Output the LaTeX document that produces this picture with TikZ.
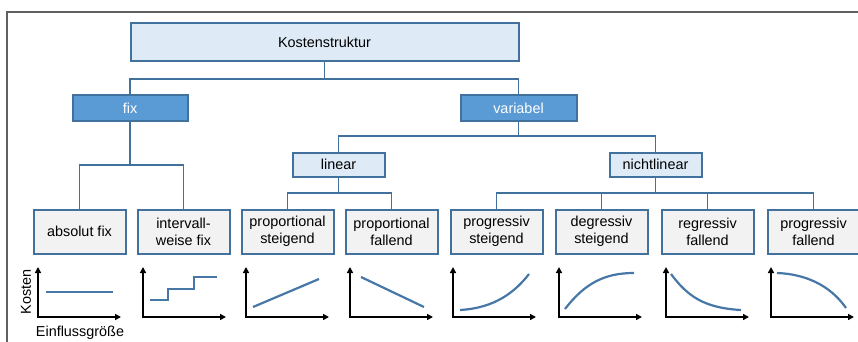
\documentclass[tikz,border=0pt]{standalone}
\usepackage{fontspec}
\setmainfont{Liberation Sans}
\usetikzlibrary{arrows.meta}
\definecolor{bord}{HTML}{41719C}
\definecolor{lightfill}{HTML}{DEEBF7}
\definecolor{midfill}{HTML}{5B9BD5}
\definecolor{grayfill}{HTML}{F2F2F2}
\definecolor{framec}{HTML}{606060}
\definecolor{curvec}{HTML}{4677A6}
\tikzset{
  box/.style={draw=bord, line width=2pt, inner sep=0pt, align=center,
    font=\fontsize{14.4}{17}\selectfont},
  topbox/.style={box, fill=lightfill, minimum width=388pt, minimum height=38pt},
  catbox/.style={box, fill=midfill, text=white, minimum width=115pt, minimum height=25pt},
  subbox/.style={box, fill=lightfill, minimum width=92pt, minimum height=24pt},
  leafbox/.style={box, fill=grayfill, minimum width=92pt, minimum height=44pt},
  conn/.style={draw=bord, line width=1.6pt},
  axis/.style={line width=2pt, -{Triangle[length=6pt,width=6pt]}},
  curve/.style={draw=curvec, line width=2.2pt},
  lbl/.style={font=\fontsize{14.4}{17}\selectfont, inner sep=0pt}
}
\begin{document}
\begin{tikzpicture}[x=1pt,y=-1pt]
\useasboundingbox (0,0) rectangle (858,342);
\clip (0,0) rectangle (858,342);
% frame
\draw[framec, line width=1.6pt] (7,12) rectangle (880,380);
% nodes
\node[topbox] (K) at (324.5,42.5) {Kostenstruktur};
\node[catbox] (fix) at (130,108) {fix};
\node[catbox, minimum width=116pt] (var) at (518.5,108) {variabel};
\node[subbox] (lin) at (338.5,164.5) {linear};
\node[subbox] (nlin) at (655.5,164.5) {nichtlinear};
\node[leafbox] (b1) at (79.5,231.5) {absolut fix};
\node[leafbox] (b2) at (183.5,231.5) {intervall-\\weise fix};
\node[leafbox] (b3) at (287.5,231.5) {proportional\\steigend};
\node[leafbox] (b4) at (391.5,231.5) {proportional\\fallend};
\node[leafbox] (b5) at (496.5,231.5) {progressiv\\steigend};
\node[leafbox] (b6) at (601.5,231.5) {degressiv\\steigend};
\node[leafbox] (b7) at (707.5,231.5) {regressiv\\fallend};
\node[leafbox] (b8) at (813.5,231.5) {progressiv\\fallend};
% junctions
\coordinate (k1) at (324.5,79);
\coordinate (f1) at (130,165);
\coordinate (v1) at (518.5,136);
\coordinate (l1) at (338.5,193);
\coordinate (n1) at (655.5,193);
% connectors
\draw[conn] (K.south) -- (k1);
\draw[conn] (fix.north) |- (k1) -| (var.north);
\draw[conn] (fix.south) -- (f1);
\draw[conn] (b1.north) |- (f1) -| (b2.north);
\draw[conn] (var.south) -- (v1);
\draw[conn] (lin.north) |- (v1) -| (nlin.north);
\draw[conn] (lin.south) -- (l1);
\draw[conn] (b3.north) |- (l1) -| (b4.north);
\draw[conn] (nlin.south) -- (n1);
\draw[conn] (b5.north) |- (n1) -| (b8.north);
\draw[conn] (b6.north) -- (b6.north |- n1);
\draw[conn] (b7.north) -- (b7.north |- n1);
% charts: axes
\foreach \x in {38,143,246,350,453,559,666,771}{
  \draw[axis] (\x,317) -- (\x,267);
  \draw[axis] (\x-1,317) -- (\x+83,317);
}
% chart curves
\draw[curve] (46,292) -- (113,292);
\draw[curve] (150,300) -- (168,300) -- (168,289) -- (194,289) -- (194,277) -- (217,277);
\draw[curve] (253,307) -- (319,279);
\draw[curve] (361,277) -- (424,307);
\draw[curve] (460,310) .. controls (495,308) and (515,292) .. (529,274);
\draw[curve] (565,309) .. controls (585,283) and (605,273) .. (634,273);
\draw[curve] (671,274) .. controls (688,297) and (705,308) .. (741,310);
\draw[curve] (777,273) .. controls (805,274) and (830,285) .. (846,308);
% axis labels
\node[lbl, rotate=90] (ylab) at (26,292) {Kosten};
\node[lbl] (xlab) at (80,333) {Einflussgröße};
\end{tikzpicture}
\end{document}
